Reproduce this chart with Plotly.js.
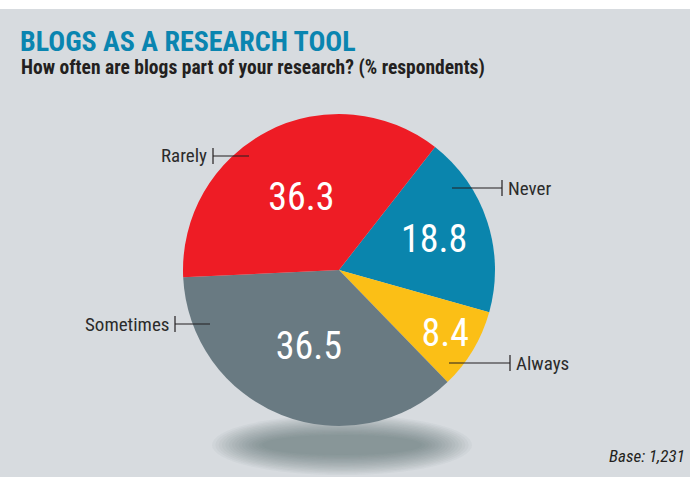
<!DOCTYPE html>
<html><head><meta charset="utf-8">
<script src="https://cdn.plot.ly/plotly-3.0.1.min.js"></script>
<style>html,body{margin:0;padding:0;background:#fff;}#chart{width:690px;height:477px;}</style>
</head><body><div id="chart"></div>
<script>
const categories = ['Never', 'Always', 'Sometimes', 'Rarely'];
const values = [18.8, 8.4, 36.5, 36.3];
const sliceColors = ['#0a85ad', '#fbbf16', '#697a82', '#ee1c25'];
const titleText = 'BLOGS AS A RESEARCH TOOL';
const subtitleText = 'How often are blogs part of your research? (% respondents)';
const baseText = 'Base: 1,231';

const W = 690, H = 477;
const FONT = '"Liberation Sans Narrow", "Roboto Condensed", "DejaVu Sans Condensed", sans-serif';
const px = x => x / W, py = y => 1 - y / H;

// leader label layout: [lineStartX, lineEndX(tick), y, textSide]
const labelLayout = {
  'Rarely':    {x0: 249, x1: 213, y: 156, side: 'left'},
  'Never':     {x0: 452, x1: 502, y: 188, side: 'right'},
  'Sometimes': {x0: 210, x1: 175, y: 324, side: 'left'},
  'Always':    {x0: 449, x1: 510, y: 363, side: 'right'}
};

const shapes = [
  {type: 'rect', xref: 'paper', yref: 'paper', x0: 0, x1: 1, y0: 0, y1: py(9), fillcolor: '#d7dbdf', line: {width: 0}, layer: 'below'}
];
// soft shadow beneath the pie
for (let i = 0; i < 16; i++) {
  const t = i / 15;
  const rx = 130 - t * 50, ry = 30 - t * 20;
  shapes.push({
    type: 'circle', xref: 'paper', yref: 'paper', layer: 'below',
    x0: px(342 - rx), x1: px(342 + rx), y0: py(445 + ry), y1: py(445 - ry),
    fillcolor: 'rgba(80,86,92,0.045)', line: {width: 0}
  });
}

const annotations = [
  {text: '<b>' + titleText + '</b>', x: px(18), y: py(42), xref: 'paper', yref: 'paper', xanchor: 'left', yanchor: 'middle', showarrow: false,
   font: {family: FONT, size: 28, color: '#0a85b0'}},
  {text: '<b>' + subtitleText + '</b>', x: px(19), y: py(67), xref: 'paper', yref: 'paper', xanchor: 'left', yanchor: 'middle', showarrow: false,
   font: {family: FONT, size: 19.5, color: '#231f20'}},
  {text: '<i>' + baseText + '</i>', x: px(687), y: py(456), xref: 'paper', yref: 'paper', xanchor: 'right', yanchor: 'middle', showarrow: false,
   font: {family: FONT, size: 17, color: '#231f20'}}
];

categories.forEach(c => {
  const L = labelLayout[c];
  shapes.push({type: 'line', xref: 'paper', yref: 'paper', x0: px(L.x0), x1: px(L.x1), y0: py(L.y), y1: py(L.y), line: {color: '#231f20', width: 1.2}});
  shapes.push({type: 'line', xref: 'paper', yref: 'paper', x0: px(L.x1), x1: px(L.x1), y0: py(L.y - 8), y1: py(L.y + 8), line: {color: '#231f20', width: 1.2}});
  annotations.push({text: c, xref: 'paper', yref: 'paper', showarrow: false,
    x: px(L.side === 'left' ? L.x1 - 4 : L.x1 + 4), y: py(L.y),
    xanchor: L.side === 'left' ? 'right' : 'left', yanchor: 'middle',
    font: {family: FONT, size: 19, color: '#2b2b2b'}});
});

const trace = {
  type: 'pie',
  labels: categories,
  values: values,
  sort: false,
  direction: 'clockwise',
  rotation: 38,
  marker: {colors: sliceColors, line: {width: 0}},
  textinfo: 'value',
  texttemplate: '%{value:.1f}',
  textposition: 'inside',
  insidetextorientation: 'horizontal',
  insidetextfont: {family: FONT, size: 38, color: '#ffffff'},
  hoverinfo: 'label+value',
  showlegend: false,
  domain: {x: [183 / W, 495 / W], y: [1 - 426 / H, 1 - 114 / H]}
};

Plotly.newPlot('chart', [trace], {
  width: W, height: H,
  margin: {l: 0, r: 0, t: 0, b: 0},
  paper_bgcolor: '#ffffff',
  shapes: shapes,
  annotations: annotations
}, {displayModeBar: false, staticPlot: true});
</script></body></html>
